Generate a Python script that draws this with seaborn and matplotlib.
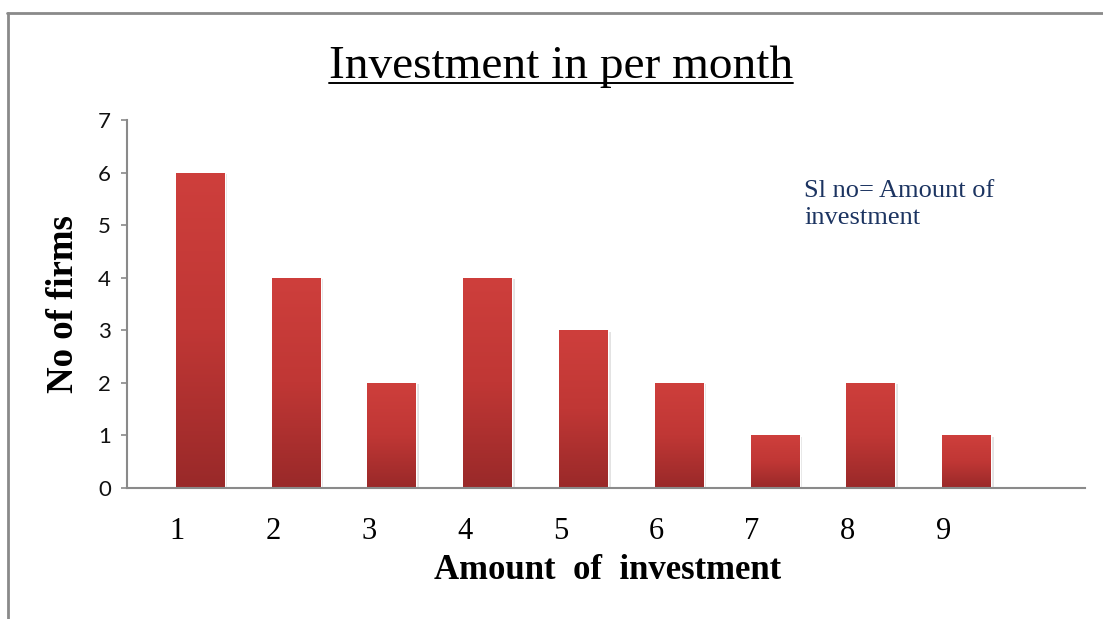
import matplotlib
matplotlib.use("Agg")
import matplotlib.pyplot as plt
import matplotlib.patheffects as pe
from matplotlib.colors import LinearSegmentedColormap
from matplotlib.lines import Line2D
import numpy as np
import pandas as pd
import seaborn as sns

# data
amounts = [1, 2, 3, 4, 5, 6, 7, 8, 9]
firms = [6, 4, 2, 4, 3, 2, 1, 2, 1]
y_ticks = [0, 1, 2, 3, 4, 5, 6, 7]

title = "Investment in per month"
x_label = "Amount  of  investment"
y_label = "No of firms"
note = "Sl no= Amount of\ninvestment"

SERIF = ["Liberation Serif", "DejaVu Serif"]
GRID_GREY = "#8a8a8a"

sns.set_theme(style="white")
plt.rcParams["font.family"] = SERIF
plt.rcParams["text.color"] = "black"
plt.rcParams["axes.labelcolor"] = "black"

df = pd.DataFrame({"amount": amounts, "firms": firms})

fig = plt.figure(figsize=(11.03, 6.19), dpi=100)
ax = fig.add_axes([127 / 1103, 131 / 619, 958 / 1103, 368 / 619])

sns.barplot(data=df, x="amount", y="firms", native_scale=True, width=0.51,
            color="#b83533", saturation=1, ax=ax)

# vertical red gradient inside each bar (lighter at top, darker at bottom)
cmap = LinearSegmentedColormap.from_list("bar", ["#992929", "#c03735", "#ce3f3c"])
grad = np.linspace(0, 1, 256).reshape(-1, 1)
for p in ax.patches:
    x0, y0 = p.get_x(), p.get_y()
    w, h = p.get_width(), p.get_height()
    p.set_path_effects([pe.SimplePatchShadow(offset=(2, -1), alpha=0.15, shadow_rgbFace="#444444"),
                        pe.Normal()])
    im = ax.imshow(grad, cmap=cmap, origin="lower", aspect="auto",
                   extent=[x0, x0 + w, y0, y0 + h], zorder=p.get_zorder() + 0.1)
    im.set_clip_path(p)

ax.set_xlim(0.235, 10.235)
ax.set_ylim(0, 7)
ax.set_yticks(y_ticks)
ax.set_xticks([a - 0.24 for a in amounts])
ax.set_xticklabels([str(a) for a in amounts], fontsize=22, family=SERIF)
ax.tick_params(axis="x", length=0, pad=21, colors="black")
ax.tick_params(axis="y", left=True, length=4.5, width=1.2, color=GRID_GREY,
               pad=7, labelsize=16)
for lab in ax.get_yticklabels():
    lab.set_family(["Lato", "DejaVu Sans"])
    lab.set_color("#111111")

for side in ["top", "right"]:
    ax.spines[side].set_visible(False)
for side in ["left", "bottom"]:
    ax.spines[side].set_color(GRID_GREY)
    ax.spines[side].set_linewidth(1.5)

ax.set_xlabel(x_label, fontsize=25, fontweight="bold", family=SERIF)
ax.xaxis.label.set_verticalalignment("center")
ax.xaxis.set_label_coords(0.502, -0.2255)
ax.set_ylabel(y_label, fontsize=26.5, fontweight="bold", family=SERIF)
ax.yaxis.label.set_verticalalignment("center")
ax.yaxis.set_label_coords(-0.066, 0.5)

ax.text(804 / 1103, 1 - 180 / 619, note, transform=fig.transFigure,
        fontsize=19, family=SERIF, color="#1c3461", va="top", ha="left",
        linespacing=1.3)

# title with underline
t = fig.text(561 / 1103, 1 - 78 / 619, title, fontsize=34, family=SERIF,
             ha="center", va="baseline", color="black")
fig.canvas.draw()
bb = t.get_window_extent(fig.canvas.get_renderer()).transformed(fig.transFigure.inverted())
fig.add_artist(Line2D([bb.x0, bb.x1], [1 - 83 / 619] * 2, color="black", lw=1.4,
                      transform=fig.transFigure))

# outer frame lines
fig.add_artist(Line2D([7 / 1103, 1], [1 - 13 / 619] * 2, color=GRID_GREY, lw=2,
                      transform=fig.transFigure))
fig.add_artist(Line2D([8 / 1103] * 2, [0, 1 - 13 / 619], color=GRID_GREY, lw=2,
                      transform=fig.transFigure))

fig.savefig("out.png", dpi=100)
plt.close(fig)
